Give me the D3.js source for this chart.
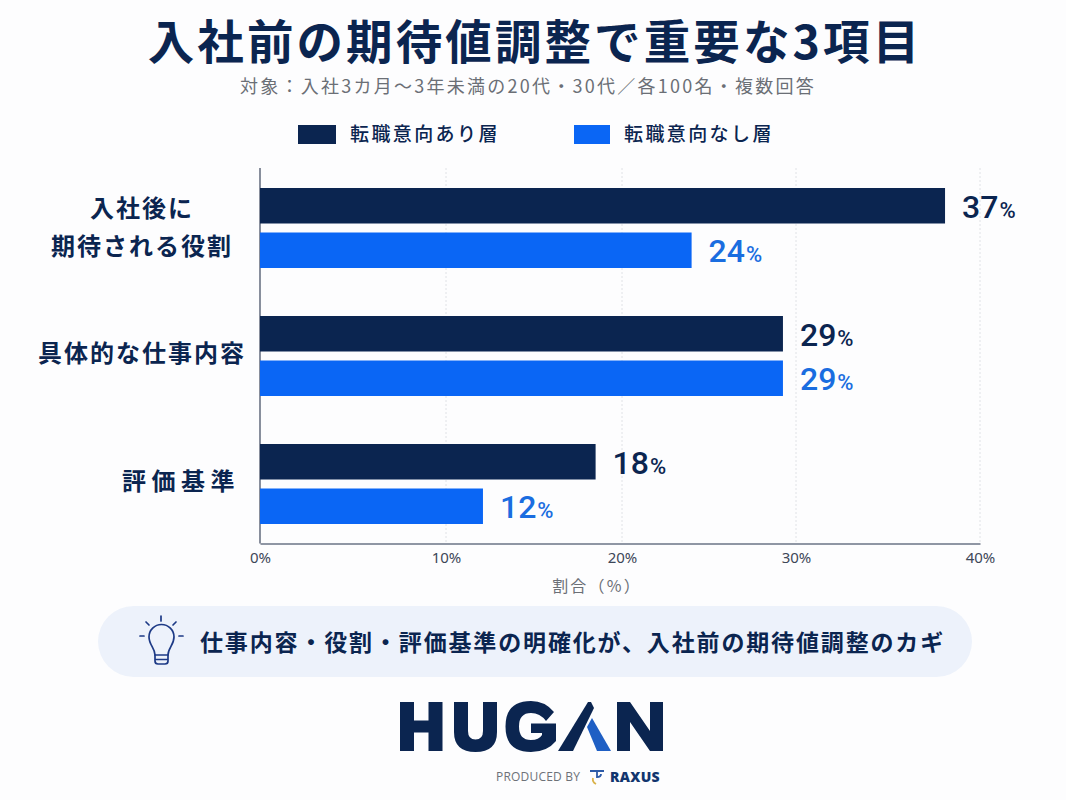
<!DOCTYPE html>
<html lang="ja"><head><meta charset="utf-8">
<script src="https://cdn.jsdelivr.net/npm/d3@7"></script>
<style>html,body{margin:0;padding:0;background:#fdfdfe}svg{display:block}text{font-family:"Noto Sans CJK JP","Noto Sans",sans-serif}</style>
</head><body><svg id="c" width="1066" height="800"></svg>
<script>
const categories = [["入社後に","期待される役割"],["具体的な仕事内容"],["評価基準"]];
const seriesNames = ["転職意向あり層","転職意向なし層"];
const withIntent = [38.1,29.25,18.5];      // bar lengths as drawn
const withoutIntent = [24,29.25,12.1];
const withIntentLabels = [37,29,18];       // values as printed
const withoutIntentLabels = [24,29,12];
const tickValues = [0,10,20,30,40];
const tickPositions = [260,446,622,796,980];
const title = "入社前の期待値調整で重要な3項目";
const subtitle = "対象：入社3カ月〜3年未満の20代・30代／各100名・複数回答";
const xTitle = "割合（%）";
const callout = "仕事内容・役割・評価基準の明確化が、入社前の期待値調整のカギ";

const NAVY="#0b2550", BLUE="#0a66f5", LABELBLUE="#1a6de0";
const svg=d3.select("#c");
svg.append("rect").attr("width",1066).attr("height",800).attr("fill","#fdfdfe");
const T=(x,y,s,size,fill,weight,anchor,ls)=>svg.append("text").attr("x",x).attr("y",y).text(s)
  .attr("font-size",size).attr("fill",fill).attr("font-weight",weight||400)
  .attr("text-anchor",anchor||"middle").attr("letter-spacing",ls||0);

T(535,59,title,46.5,NAVY,700,"middle",3.1);
T(528,93,subtitle,18,"#6b6f76",400,"middle",2.25);

[[298,336,350,NAVY],[574,610,624,BLUE]].forEach((l,i)=>{
  svg.append("rect").attr("x",l[0]).attr("y",125).attr("width",l[1]-l[0]).attr("height",19).attr("fill",l[3]);
  T(l[2],141,seriesNames[i],19,NAVY,500,"start",2.4);
});

const x=d3.scaleLinear().domain(tickValues).range(tickPositions);
const groupY=d3.scalePoint().domain(d3.range(categories.length)).range([228,484]);
const axisY=543.5, barH=35.5, gap=9;

svg.append("g").selectAll("line").data(tickValues.slice(1)).join("line")
  .attr("x1",d=>x(d)).attr("x2",d=>x(d)).attr("y1",168).attr("y2",axisY)
  .attr("stroke","#e0e2e6").attr("stroke-width",1).attr("stroke-dasharray","2 2");

const axis=d3.axisBottom(x).tickValues(tickValues).tickFormat(d=>d+"%").tickSize(0).tickPadding(9);
const ag=svg.append("g").attr("transform",`translate(0,${axisY})`).call(axis);
ag.select(".domain").attr("stroke","#6a7386").attr("stroke-width",1.3);
ag.selectAll("text").attr("font-size",15).attr("fill","#3d4758").style("font-family",'"Noto Sans",sans-serif');
svg.append("line").attr("x1",260).attr("x2",260).attr("y1",168).attr("y2",axisY).attr("stroke","#4a5468").attr("stroke-width",1.3);

const rows=[
 {vals:withIntent,labels:withIntentLabels,color:NAVY,text:NAVY,top:d=>d-barH-gap/2},
 {vals:withoutIntent,labels:withoutIntentLabels,color:BLUE,text:LABELBLUE,top:d=>d+gap/2}
];
rows.forEach(r=>{
  const g=svg.append("g");
  g.selectAll("rect").data(r.vals).join("rect")
    .attr("x",x(0)).attr("y",(d,i)=>r.top(groupY(i))).attr("width",d=>x(d)-x(0)).attr("height",barH).attr("fill",r.color);
  const t=g.selectAll("text").data(r.vals).join("text")
    .attr("x",d=>x(d)+17).attr("y",(d,i)=>r.top(groupY(i))+barH/2+12)
    .attr("fill",r.text).style("font-family",'Roboto,sans-serif').attr("font-weight",500);
  t.append("tspan").attr("font-size",32).text((d,i)=>r.labels[i]);
  t.append("tspan").attr("font-size",22).attr("dx",1).text("%");
});

categories.forEach((lines,i)=>{
  const cy=groupY(i);
  const cx=i===2?181:142;
  lines.forEach((s,j)=>{
    T(cx,cy+(i===0?8:6)+(j-(lines.length-1)/2)*38,s,24,NAVY,700,"middle",i===2?5.5:2);
  });
});

T(597,592,xTitle,16,"#6b6f76",400,"middle",2.2);

svg.append("rect").attr("x",98).attr("y",606).attr("width",874).attr("height",71).attr("rx",35.5).attr("fill","#edf2fb");
T(200,651,callout,23,NAVY,700,"start",1.85);

// bulb icon
const bulb=svg.append("g").attr("fill","none").attr("stroke","#1d3a86").attr("stroke-width",1.7).attr("stroke-linecap","round").attr("stroke-linejoin","round");
bulb.append("path").attr("d","M155 655 C155 648 149 645 149 637 A12.5 12.5 0 0 1 174 637 C174 645 168 648 168 655 Z");
bulb.append("path").attr("d","M155 655 V661 Q155 664 158 664 H165 Q168 664 168 661 V655 M155 659.5 H168");
bulb.append("path").attr("d","M161 616 V621 M146 622 L149 625 M176 622 L173 625 M140 636 H144 M179 636 H183");

// logo
const lg=svg.append("g").attr("fill",NAVY);
lg.append("path").attr("d","M400 702H414V720.5H428.5V702H442.5V751H428.5V732.5H414V751H400Z");
lg.append("path").attr("d","M454 702H468V731Q468 739.5 475.5 739.5Q483 739.5 483 731V702H497V732Q497 752 475.5 752Q454 752 454 732Z");
lg.append("path").attr("d","M554 712L546 721Q540 713 531 713Q519 713 519 726.5Q519 740 531 740Q539 740 542 735V733H531V723.5H556V741Q547 752 531 752Q505.5 752 505.5 726.5Q505.5 701 531 701Q545 701 554 712Z");
lg.append("path").attr("d","M558 751L588 702H591L594 708L573 751Z");
lg.append("path").attr("d","M587 727L592 718L611 751H597Z").attr("fill","#1f5fc4");
lg.append("path").attr("d","M617 702H630L650 731V702H663V751H650L630 722V751H617Z");
T(496,781,"PRODUCED BY",12,"#6d7178",500,"start",0.2).style("font-family",'"Open Sans",sans-serif');
T(610,781.5,"RAXUS",14,"#12356e",800,"start",0.3).style("font-family",'"Open Sans",sans-serif');
const rx=svg.append("g").attr("fill","none").attr("stroke-width",1.8);
rx.append("path").attr("d","M590 771H604M597 771V777Q601 777 601 774").attr("stroke","#2d5ba8");
rx.append("path").attr("d","M596 784Q592 782 593 778").attr("stroke","#d9b24a");
</script></body></html>
